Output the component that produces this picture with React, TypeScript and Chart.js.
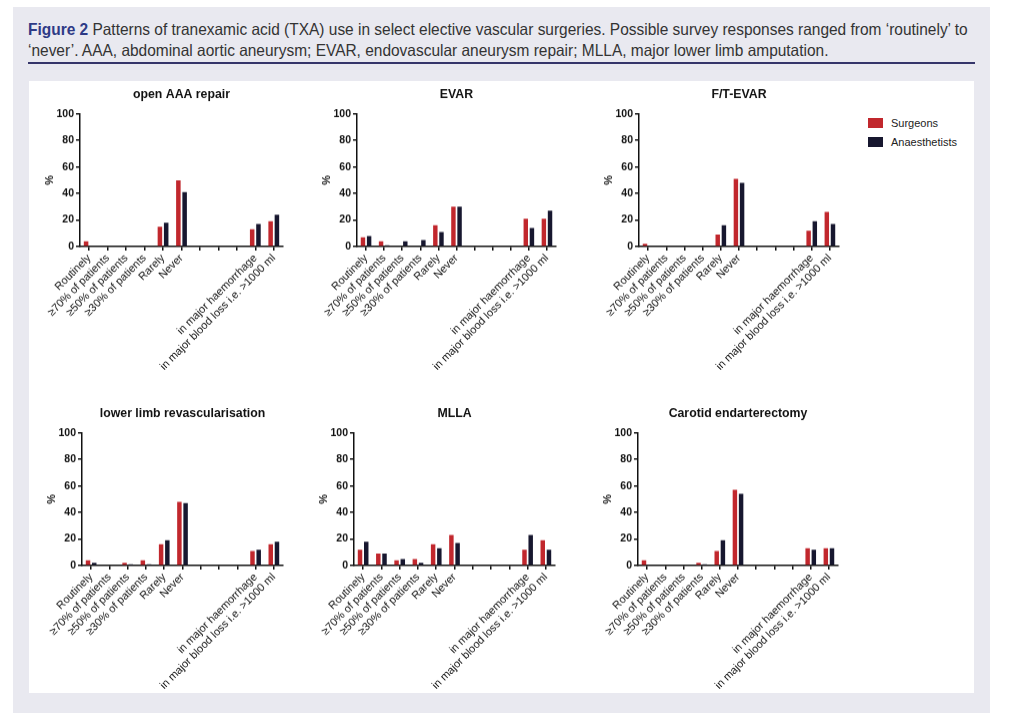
import React, { useEffect, useLayoutEffect, useRef, useState } from "react";
import { Chart, registerables } from "chart.js";

Chart.register(...registerables);

const categories = [
  "Routinely",
  "≥70% of patients",
  "≥50% of patients",
  "≥30% of patients",
  "Rarely",
  "Never",
  "",
  "",
  "",
  "in major haemorrhage",
  "in major blood loss i.e. >1000 ml",
];

const yTicks = [0, 20, 40, 60, 80, 100];

const openAAASurgeons = [4, 0, 0, 0, 15, 50, null, null, null, 13, 19];
const openAAAAnaesthetists = [0, 0, 0, 0, 18, 41, null, null, null, 17, 24];
const evarSurgeons = [7, 4, 0, 0, 16, 30, null, null, null, 21, 21];
const evarAnaesthetists = [8, 1, 4, 5, 11, 30, null, null, null, 14, 27];
const ftevarSurgeons = [2, 0, 0, 0, 9, 51, null, null, null, 12, 26];
const ftevarAnaesthetists = [0, 0, 0, 0, 16, 48, null, null, null, 19, 17];
const llrSurgeons = [4, 0, 2, 4, 16, 48, null, null, null, 11, 16];
const llrAnaesthetists = [2, 0, 1, 1, 19, 47, null, null, null, 12, 18];
const mllaSurgeons = [12, 9, 4, 5, 16, 23, null, null, null, 12, 19];
const mllaAnaesthetists = [18, 9, 5, 2, 13, 17, null, null, null, 23, 12];
const ceaSurgeons = [4, 0, 0, 2, 11, 57, null, null, null, 13, 13];
const ceaAnaesthetists = [0, 0, 0, 1, 19, 54, null, null, null, 12, 13];

const RED = "#c1272d";
const DARK = "#17172f";
const FONT = "'Liberation Sans', Arial, Helvetica, sans-serif";

const Y_W = 50;
const TOP_OFF = 31.4;
const X_H = 135;
const PAD_R = 12;

type Props = {
  title: string;
  surgeons: (number | null)[];
  anaesthetists: (number | null)[];
  L: number;
  R: number;
  T: number;
  B: number;
};

function Panel({ title, surgeons, anaesthetists, L, R, T, B }: Props) {
  const ref = useRef<HTMLCanvasElement | null>(null);
  const width = R - L + Y_W + PAD_R;
  const height = B - T + TOP_OFF + X_H;
  useEffect(() => {
    if (!ref.current) return;
    const chart = new Chart(ref.current, {
      type: "bar",
      data: {
        labels: categories,
        datasets: [
          {
            label: "Surgeons",
            data: surgeons,
            backgroundColor: RED,
            categoryPercentage: 0.68,
            barPercentage: 0.72,
          },
          {
            label: "Anaesthetists",
            data: anaesthetists,
            backgroundColor: DARK,
            categoryPercentage: 0.68,
            barPercentage: 0.72,
          },
        ],
      },
      options: {
        animation: false,
        responsive: false,
        maintainAspectRatio: false,
        layout: { padding: { top: 5, right: PAD_R, left: 0, bottom: 0 } },
        plugins: {
          legend: { display: false },
          tooltip: { enabled: false },
          title: {
            display: true,
            text: title,
            fullSize: false,
            color: "#111",
            font: { family: FONT, size: 12.3, weight: "bold", lineHeight: 1.2 },
            padding: { top: 0, bottom: 12 },
          },
        },
        scales: {
          x: {
            offset: true,
            grid: {
              offset: false,
              drawOnChartArea: false,
              drawTicks: true,
              tickLength: 4,
              color: "#111",
              lineWidth: 1.5,
            },
            border: { color: "#111", width: 1.5 },
            ticks: {
              autoSkip: false,
              maxRotation: 45,
              minRotation: 45,
              padding: 1,
              color: "#111",
              font: { family: FONT, size: 11 },
            },
            afterFit: (s: any) => {
              s.height = X_H;
            },
          },
          y: {
            min: 0,
            max: 100,
            afterBuildTicks: (s: any) => {
              s.ticks = yTicks.map((v) => ({ value: v }));
            },
            grid: {
              drawOnChartArea: false,
              drawTicks: true,
              tickLength: 4,
              color: "#111",
              lineWidth: 1.5,
            },
            border: { color: "#111", width: 1.5 },
            ticks: {
              padding: 2,
              color: "#111",
              font: { family: FONT, size: 10.5, weight: "bold" },
            },
            title: {
              display: true,
              text: "%",
              color: "#111",
              font: { family: FONT, size: 11, weight: "bold" },
              padding: { top: 13, bottom: 4 },
            },
            afterFit: (s: any) => {
              s.width = Y_W;
            },
          },
        },
      },
    });
    return () => chart.destroy();
  }, [title, surgeons, anaesthetists]);
  return (
    <canvas
      ref={ref}
      width={width}
      height={height}
      style={{
        position: "absolute",
        left: L - Y_W,
        top: T - TOP_OFF,
        width,
        height,
      }}
    />
  );
}

export default function App() {
  const line1Ref = useRef<HTMLDivElement | null>(null);
  const [scale, setScale] = useState(1);
  useLayoutEffect(() => {
    if (line1Ref.current) {
      const w = line1Ref.current.scrollWidth;
      if (w > 0) setScale(940 / w);
    }
  }, []);
  const lineStyle: React.CSSProperties = {
    position: "absolute",
    left: 28,
    fontFamily: FONT,
    fontSize: 16.5,
    lineHeight: "21px",
    color: "#333",
    whiteSpace: "nowrap",
    display: "inline-block",
    transform: `scaleX(${scale})`,
    transformOrigin: "0 0",
  };
  return (
    <div
      style={{
        position: "absolute",
        left: 0,
        top: 0,
        width: 1024,
        height: 726,
        background: "#ffffff",
        overflow: "hidden",
        fontFamily: FONT,
      }}
    >
      <div
        style={{
          position: "absolute",
          left: 13,
          top: 7,
          width: 977,
          height: 706,
          background: "#e9e9f0",
        }}
      />
      <div ref={line1Ref} style={{ ...lineStyle, top: 19 }}>
        <span style={{ fontWeight: "bold", color: "#2e3a86" }}>Figure 2</span> Patterns of tranexamic acid
        (TXA) use in select elective vascular surgeries. Possible survey responses ranged from ‘routinely’ to
      </div>
      <div style={{ ...lineStyle, top: 40 }}>
        ‘never’. AAA, abdominal aortic aneurysm; EVAR, endovascular aneurysm repair; MLLA, major lower limb
        amputation.
      </div>
      <div
        style={{
          position: "absolute",
          left: 28,
          top: 62,
          width: 947,
          height: 2,
          background: "#35356a",
        }}
      />
      <div
        style={{
          position: "absolute",
          left: 29,
          top: 81,
          width: 945,
          height: 612,
          background: "#ffffff",
        }}
      />
      <Panel title="open AAA repair" surgeons={openAAASurgeons} anaesthetists={openAAAAnaesthetists} L={80} R={283} T={113.7} B={246.7} />
      <Panel title="EVAR" surgeons={evarSurgeons} anaesthetists={evarAnaesthetists} L={356.7} R={556} T={113.7} B={246.7} />
      <Panel title="F/T-EVAR" surgeons={ftevarSurgeons} anaesthetists={ftevarAnaesthetists} L={639} R={839} T={113.7} B={246.7} />
      <Panel title="lower limb revascularisation" surgeons={llrSurgeons} anaesthetists={llrAnaesthetists} L={81.7} R={283} T={432.7} B={565.7} />
      <Panel title="MLLA" surgeons={mllaSurgeons} anaesthetists={mllaAnaesthetists} L={354} R={555} T={432.7} B={565.7} />
      <Panel title="Carotid endarterectomy" surgeons={ceaSurgeons} anaesthetists={ceaAnaesthetists} L={637.7} R={838} T={432.7} B={565.7} />
      <div style={{ position: "absolute", left: 868, top: 118, width: 15, height: 10, background: RED }} />
      <div style={{ position: "absolute", left: 868, top: 137, width: 15, height: 10, background: DARK }} />
      <div style={{ position: "absolute", left: 891, top: 116, fontSize: 11, lineHeight: "14px", color: "#222" }}>
        Surgeons
      </div>
      <div style={{ position: "absolute", left: 891, top: 135, fontSize: 11, lineHeight: "14px", color: "#222" }}>
        Anaesthetists
      </div>
    </div>
  );
}
